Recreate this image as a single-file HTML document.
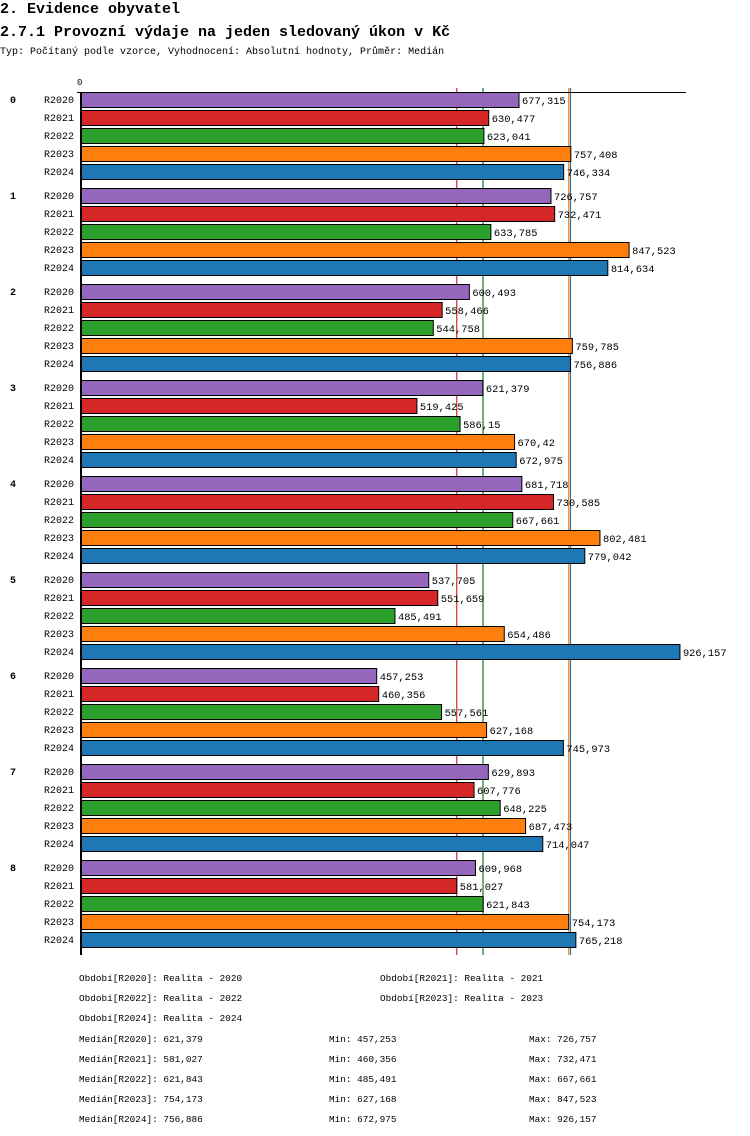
<!DOCTYPE html>
<html><head><meta charset="utf-8"><style>
body{margin:0;background:#fff;width:750px;height:1136px;overflow:hidden}
svg{display:block}
text{font-family:"Liberation Mono","DejaVu Sans Mono",monospace;fill:#000}
</style></head><body>
<svg id="chart" width="750" height="1136" xmlns="http://www.w3.org/2000/svg">
<text x="0" y="13" font-size="15" font-weight="bold">2. Evidence obyvatel</text>
<text x="0" y="36" font-size="15" font-weight="bold">2.7.1 Provozní výdaje na jeden sledovaný úkon v Kč</text>
<text x="0" y="54" font-size="10">Typ: Počítaný podle vzorce, Vyhodnocení: Absolutní hodnoty, Průměr: Medián</text>
<text x="77" y="85" font-size="9">0</text>
<g id="medians"></g>
<g id="bars"></g>
<line x1="77" y1="92.5" x2="686" y2="92.5" stroke="#000" stroke-width="1"/>
<line x1="81" y1="92" x2="81" y2="955" stroke="#000" stroke-width="2"/>
<g id="legend"></g>
</svg>
<script>
const groups = ["0","1","2","3","4","5","6","7","8"];
const series = ["R2020","R2021","R2022","R2023","R2024"];
const colors = ["#9467bd","#d62728","#2ca02c","#ff7f0e","#1f77b4"];
const vR2020 = [677.315,726.757,600.493,621.379,681.718,537.705,457.253,629.893,609.968];
const vR2021 = [630.477,732.471,558.466,519.425,730.585,551.659,460.356,607.776,581.027];
const vR2022 = [623.041,633.785,544.758,586.15,667.661,485.491,557.561,648.225,621.843];
const vR2023 = [757.408,847.523,759.785,670.42,802.481,654.486,627.168,687.473,754.173];
const vR2024 = [746.334,814.634,756.886,672.975,779.042,926.157,745.973,714.047,765.218];
const medians = [621.379,581.027,621.843,754.173,756.886];
const mins = [457.253,460.356,485.491,627.168,672.975];
const maxs = [726.757,732.471,667.661,847.523,926.157];
const labels = ["Realita - 2020","Realita - 2021","Realita - 2022","Realita - 2023","Realita - 2024"];
const values = [vR2020,vR2021,vR2022,vR2023,vR2024];

const NS="http://www.w3.org/2000/svg";
const x = v => 81 + v*0.6467;
const y = (g,r) => 92 + g*96 + r*18;
const fmt = v => String(v).replace('.', ',');
function mk(tag, attrs, parent, txt){const e=document.createElementNS(NS,tag);for(const k in attrs)e.setAttribute(k,attrs[k]);if(txt!==undefined)e.textContent=txt;parent.appendChild(e);return e;}
const bars=document.getElementById('bars');
groups.forEach((gname,g)=>{
  const gl=mk('text',{x:10,y:y(g,0)+11,'font-size':10,'font-weight':'bold'},bars,gname);
  
  
  series.forEach((s,r)=>{
    const v=values[r][g];
    const sl=mk('text',{x:44,y:y(g,r)+11,'font-size':10},bars,s);
    
    
    const b=mk('rect',{x:81,y:y(g,r)+0.5,width:x(v)-81,height:15,fill:colors[r],stroke:'#000','stroke-width':1},bars);
    
    
    const vl=mk('text',{x:x(v)+3,y:y(g,r)+12,'font-size':10.4},bars,fmt(v));
    
    
  });
});
const med=document.getElementById('medians');
[0,1,2,3,4].forEach(i=>{
  const px=x(medians[i]);
  const l=mk('line',{x1:px,x2:px,y1:88,y2:955,stroke:colors[i],'stroke-width':1.2},med);
  
  
});
const leg=document.getElementById('legend');
const fs=9.4;
const pos=[[79,981],[380,981],[79,1001],[380,1001],[79,1021]];
series.forEach((s,i)=>{
  const t=mk('text',{x:pos[i][0],y:pos[i][1],'font-size':fs},leg,'Období['+s+']: '+labels[i]);
  
  
});
series.forEach((s,i)=>{
  const yy=1042+i*20;
  const a=mk('text',{x:79,y:yy,'font-size':fs},leg,'Medián['+s+']: '+fmt(medians[i]));
  
  
  const b=mk('text',{x:329,y:yy,'font-size':fs},leg,'Min: '+fmt(mins[i]));
  
  
  const c=mk('text',{x:529,y:yy,'font-size':fs},leg,'Max: '+fmt(maxs[i]));
  
  
});
</script>
</body></html>
